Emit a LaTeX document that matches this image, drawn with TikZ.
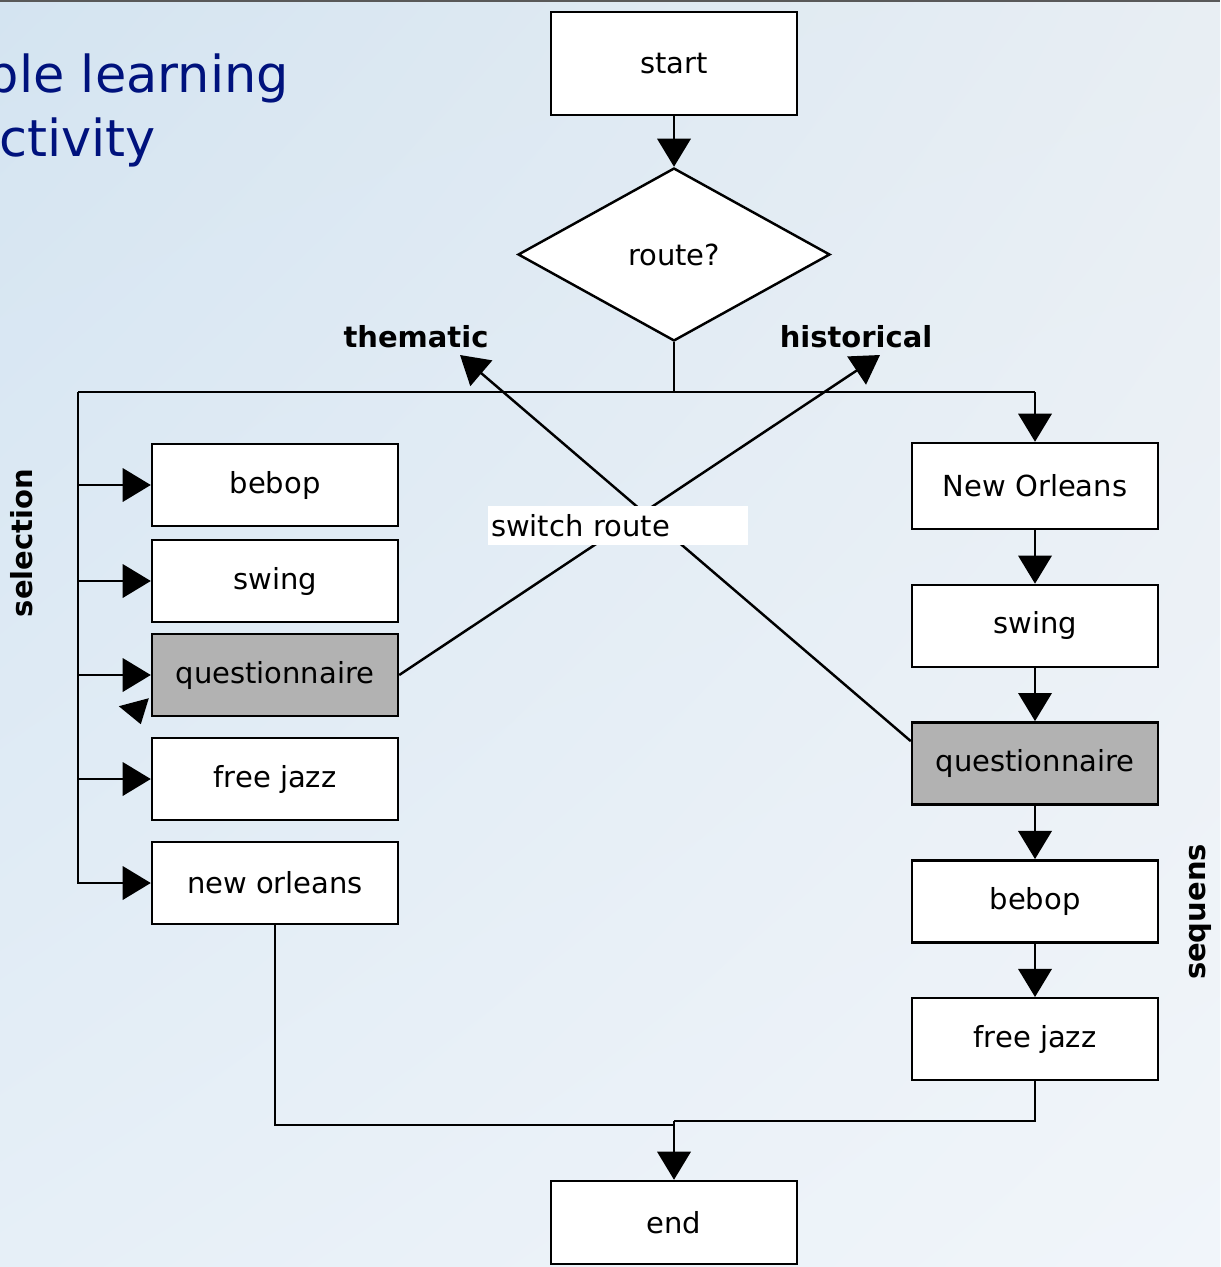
\documentclass[tikz,border=0pt]{standalone}
\usepackage{fontspec}
\setmainfont{DejaVu Sans}
\usetikzlibrary{positioning,shapes.geometric,arrows.meta,calc,shadings}
\definecolor{titleblue}{RGB}{0,18,125}
\definecolor{bgul}{RGB}{212,228,241}
\definecolor{bgur}{RGB}{232,238,243}
\definecolor{bgll}{RGB}{230,239,247}
\definecolor{bglr}{RGB}{241,245,250}
\tikzset{
	basic/.style  = {draw, line width=1.4pt, font=\fontsize{16.5}{20}\selectfont},
	box/.style    = {basic, rectangle, fill=white, minimum width=4.92cm,
		minimum height=1.64cm, inner sep=0pt},
	quest/.style  = {box, fill=black!30},
	decide/.style = {basic, diamond, fill=white, minimum width=6.24cm,
		minimum height=3.46cm, inner sep=0pt},
	tag/.style    = {font=\bfseries\fontsize{16.5}{20}\selectfont},
	arr/.style    = {-{Triangle[width=19pt,length=16pt]}}
}

\begin{document}
\begin{tikzpicture}[x=0.02cm, y=-0.02cm, line width=1.4pt]
	% slide background
	\clip (0,0) rectangle (1220,1267);
	\shade[upper left=bgul, upper right=bgur, lower left=bgll, lower right=bglr]
		(0,0) rectangle (1220,1267);
	\draw[black!65, line width=2pt] (0,0) -- (1220,0);
	% cut-off slide title
	\node[font=\fontsize{29}{35}\selectfont, text=titleblue, anchor=base east, inner sep=0pt]
		(title1) at (290,93) {ble learning};
	\node[font=\fontsize{29}{35}\selectfont, text=titleblue, anchor=base east, inner sep=0pt]
		(title2) at (157,157) {ctivity};
	% start and choice
	\node[box, minimum height=2.06cm] (start) at (674,63.5) {start};
	\node[decide] (route) at (674,254.5) {route?};
	\draw[arr] (start) -- (route.north);
	% thematic route, left column
	\node[box]   (lbebop)   at (275,485) {bebop};
	\node[box]   (lswing)   at (275,581) {swing};
	\node[quest] (lquest)   at (275,675) {questionnaire};
	\node[box]   (ljazz)    at (275,779) {free jazz};
	\node[box]   (lorleans) at (275,883) {new orleans};
	% historical route, right column
	\node[box, minimum height=1.72cm] (rorleans) at (1035,486) {New Orleans};
	\node[box]   (rswing) [below = 1.07cm of rorleans] {swing};
	\node[quest] (rquest) [below = 1.06cm of rswing] {questionnaire};
	\node[box]   (rbebop) [below = 1.07cm of rquest] {bebop};
	\node[box]   (rjazz)  [below = 1.07cm of rbebop] {free jazz};
	\node[box, minimum height=1.66cm] (end) at (674,1222.5) {end};
	% labels
	\node[tag] (thematic)   at (416,337) {thematic};
	\node[tag] (historical) at (856,337) {historical};
	\node[tag, rotate=90] (selection) at (22,543) {selection};
	\node[tag, rotate=90] (sequens)   at (1200,912) {sequens};
	\coordinate (split) at (674,392);
	\coordinate (lft) at (78,392);
	\coordinate (rgt) at (1035,392);
	\coordinate (totheme) at (460,355);
	\coordinate (tohist) at (880,355);
	\coordinate (merge) at (674,1121);
	\coordinate (lmerge) at (674,1125);
	% connectors
	\draw (route.south) -- (split);
	\draw (lft) -- (rgt);
	\draw[arr] (rgt) -- (rorleans.north);
	\foreach \n in {lbebop,lswing,lquest,ljazz,lorleans}
	\draw[arr] (lft) |- (\n.west);
	\foreach \a/\b in {rorleans/rswing,rswing/rquest,rquest/rbebop,rbebop/rjazz}
	\draw[arr] (\a) -- (\b);
	\draw (lorleans.south) |- (lmerge);
	\draw (rjazz.south) |- (merge);
	\draw[arr] (merge) -- (end.north);
	\fill ($(lquest.south west)+(-32,-11)$) -- ($(lquest.south west)+(-2,-19)$)
		-- ($(lquest.south west)+(-10,7)$) -- cycle;
	% switching between the routes
	\draw[arr] ($(rquest.north west)+(0,20)$) -- (totheme);
	\draw[arr] (lquest.east) -- (tohist);
	\node[fill=white, inner sep=0pt, inner xsep=0.06cm, text width=5.08cm,
		minimum height=0.78cm, align=left, font=\fontsize{16.5}{20}\selectfont]
		(switch) at (618,525.5) {switch route};
\end{tikzpicture}
\end{document}
